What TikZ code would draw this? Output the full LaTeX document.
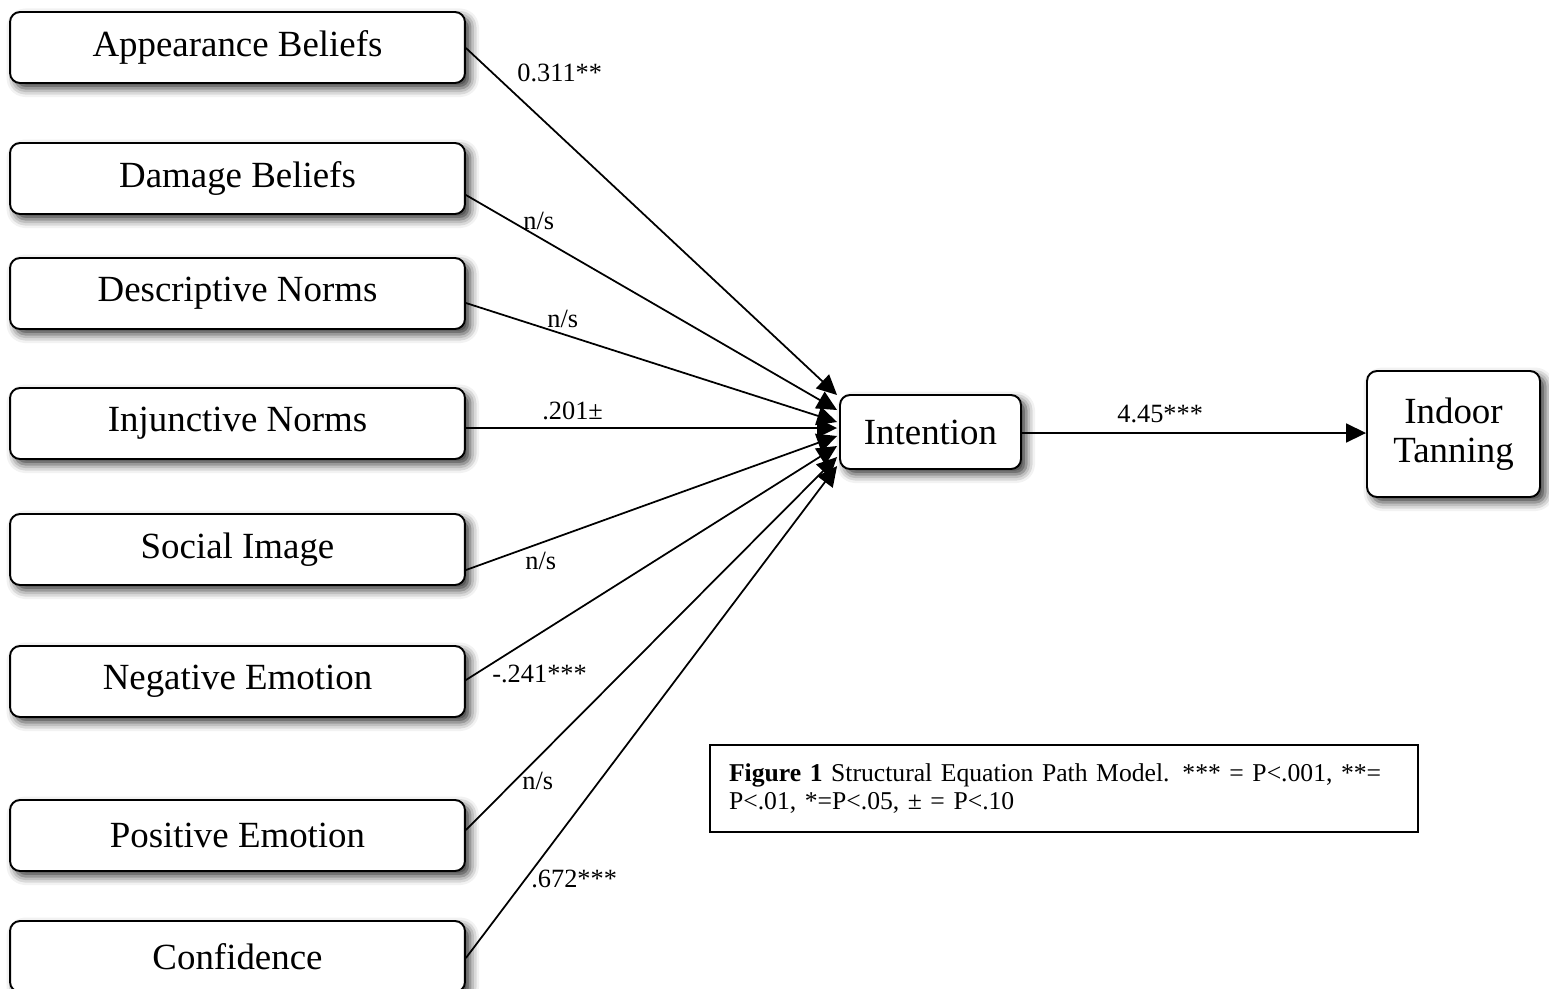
\documentclass[tikz,border=0pt]{standalone}
\usepackage{fontspec}
\setmainfont{Liberation Serif}
\usetikzlibrary{arrows.meta,calc,shadows.blur}
\begin{document}
\begin{tikzpicture}[x=0.02cm,y=-0.02cm,
  box/.style={draw=black, line width=1.1pt, rounded corners=0.2cm, fill=white,
    inner sep=0pt, font=\fontsize{21}{22}\selectfont,
    blur shadow={shadow xshift=3pt, shadow yshift=-3pt, shadow blur radius=5pt, shadow opacity=80}},
  srcbox/.style={box, minimum width=9.1cm, minimum height=1.42cm},
  edge/.style={line width=1pt, -{Triangle[length=0.4cm,width=0.38cm]}},
  lab/.style={font=\fontsize{15}{18}\selectfont, inner sep=0pt, anchor=west},
  capbox/.style={draw=black, line width=0.8pt, minimum width=14.16cm, minimum height=1.74cm,
    text width=13.4cm, inner xsep=0.38cm, align=left, font=\fontsize{14.6}{16}\selectfont}]
\useasboundingbox (0,0) rectangle (1549,988);

\node[srcbox] (ab) at (237.5,47.5) {Appearance Beliefs};
\node[srcbox] (dm) at (237.5,178.5) {Damage Beliefs};
\node[srcbox] (dn) at (237.5,293.5) {Descriptive Norms};
\node[srcbox] (in) at (237.5,423.5) {Injunctive Norms};
\node[srcbox] (si) at (237.5,549.5) {Social Image};
\node[srcbox] (ne) at (237.5,681.5) {Negative Emotion};
\node[srcbox] (pe) at (237.5,835.5) {Positive Emotion};
\node[srcbox] (cf) at (237.5,956.5) {Confidence};

\node[box, minimum width=3.62cm, minimum height=1.48cm] (int) at (930.5,432) {Intention};
\node[box, minimum width=3.46cm, minimum height=2.52cm, align=center] (tan) at (1453.5,434) {Indoor\\Tanning};

\draw[edge] ($(ab.east)+(0,0.5)$) -- ($(int.west)+(-2,-37)$);
\draw[edge] ($(dm.east)+(0,16.5)$) -- ($(int.west)+(-2,-22)$);
\draw[edge] ($(dn.east)+(0,9.5)$) -- ($(int.west)+(-2,-10)$);
\draw[edge] ($(in.east)+(0,4.5)$) -- ($(int.west)+(-2,-4)$);
\draw[edge] ($(si.east)+(0,20.5)$) -- ($(int.west)+(-2,4)$);
\draw[edge] ($(ne.east)+(0,-1.5)$) -- ($(int.west)+(-2,14)$);
\draw[edge] ($(pe.east)+(0,-5.5)$) -- ($(int.west)+(-2,25)$);
\draw[edge] ($(cf.east)+(0,1.5)$) -- ($(int.west)+(-2,34)$);
\draw[edge] ($(int.east)+(0,1)$) -- ($(int.east -| tan.west)+(0,1)$);

\node[lab] (l1) at (517,73) {0.311**};
\node[lab] (l2) at (523,221) {n/s};
\node[lab] (l3) at (547,319) {n/s};
\node[lab] (l4) at (542,411) {.201±};
\node[lab] (l5) at (525,561) {n/s};
\node[lab] (l6) at (492,674) {-.241***};
\node[lab] (l7) at (522,781) {n/s};
\node[lab] (l8) at (531,879) {.672***};
\node[lab] (l9) at (1117,414) {4.45***};

\node[capbox] (cap) at (1064,788.5) {\textbf{Figure 1} Structural Equation Path Model. *** = P<.001, **=\\P<.01, *=P<.05, ± = P<.10};
\end{tikzpicture}
\end{document}
